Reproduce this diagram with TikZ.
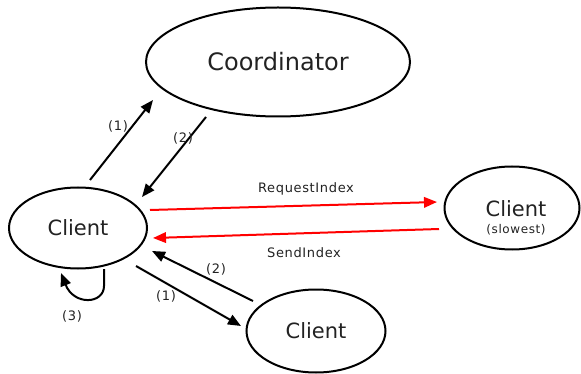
\documentclass[tikz,border=0pt]{standalone}
\usepackage{fontspec}
\setmainfont{DejaVu Sans}
\newfontfamily\lblfont[LetterSpace=5]{DejaVu Sans}
\usetikzlibrary{shapes.geometric,arrows.meta,calc}
\definecolor{txt}{HTML}{222222}
\tikzset{
  peer/.style={ellipse, draw=black, line width=2pt, inner sep=0pt, text=txt},
  msg/.style={line width=2pt, -{Triangle[length=13pt,width=10.5pt]}},
  redmsg/.style={msg, draw=red, fill=red},
  tag/.style={text=txt, font=\lblfont\fontsize{13}{15}\selectfont, inner sep=0pt}
}
\begin{document}
\begin{tikzpicture}[x=1pt,y=-1pt]
\useasboundingbox (0,0) rectangle (581,374);

% participants
\node[peer, minimum width=264pt, minimum height=109pt, font=\fontsize{24}{28}\selectfont] (co) at (278,62) {Coordinator};
\node[peer, minimum width=138pt, minimum height=81pt, font=\fontsize{21}{24}\selectfont] (cl) at (78,228) {Client};
\node[peer, minimum width=135pt, minimum height=83pt] (cs) at (512,208) {};
\node[text=txt, font=\fontsize{21}{24}\selectfont, inner sep=0pt] (cst) at ($(cs.center)+(4,1)$) {Client};
\node[tag, font=\lblfont\fontsize{12}{14}\selectfont] (csl) at ($(cs.center)+(4,22)$) {(slowest)};
\node[peer, minimum width=139pt, minimum height=83pt, font=\fontsize{21}{24}\selectfont] (cb) at (316,331) {Client};

% client <-> coordinator
\draw[msg] ($(cl.center)+(12,-48)$) -- ($(co.center)+(-125,38)$);
\draw[msg] ($(co.center)+(-72,55)$) -- ($(cl.center)+(64,-31)$);
\node[tag] (l1) at (118,126) {(1)};
\node[tag] (l2) at (183,138) {(2)};

% index exchange with the slowest client
\draw[redmsg] ($(cl.center)+(72,-18)$) -- ($(cs.center)+(-75,-6)$);
\draw[redmsg] ($(cs.center)+(-73,21)$) -- ($(cl.center)+(75,10)$);
\node[tag] (lreq) at (306,189) {RequestIndex};
\node[tag] (lsend) at (304,253) {SendIndex};

% client <-> other client
\draw[msg] ($(cb.center)+(-63,-30)$) -- ($(cl.center)+(74,23)$);
\draw[msg] ($(cl.center)+(58,38)$) -- ($(cb.center)+(-75,-5)$);
\node[tag] (l3) at (216,269) {(2)};
\node[tag] (l4) at (166,296) {(1)};

% self loop
\draw[msg] ($(cl.center)+(26,41)$) -- ($(cl.center)+(26,58)$)
  .. controls ($(cl.center)+(26,76)$) and ($(cl.center)+(-4,78)$) .. ($(cl.center)+(-17,45)$);
\node[tag] (l5) at (72,316) {(3)};
\end{tikzpicture}
\end{document}
